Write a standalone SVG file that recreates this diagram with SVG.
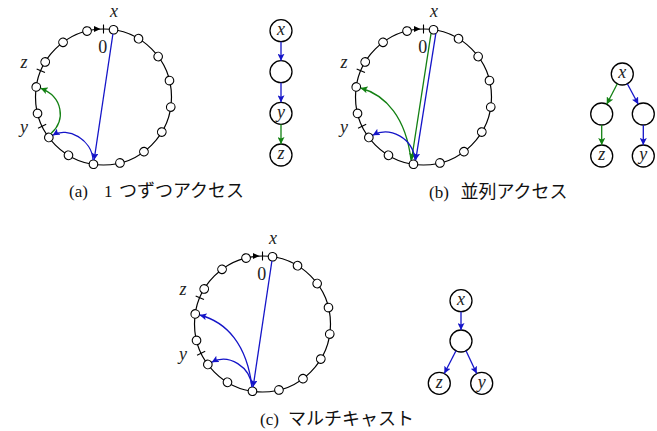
<svg xmlns="http://www.w3.org/2000/svg" width="657" height="431" viewBox="0 0 657 431">
<style>
.ring{fill:none;stroke:#000;stroke-width:1.2}
.rn{fill:#fff;stroke:#000;stroke-width:1.1}
.tk{stroke:#000;stroke-width:1.1}
.tn{fill:#fff;stroke:#000;stroke-width:1.3}
.lb{font-family:"Liberation Serif","DejaVu Serif",serif;font-style:italic;font-size:18px;fill:#222}
.num{font-family:"Liberation Serif","DejaVu Serif",serif;font-size:18px;fill:#222}
.ser{font-family:"Liberation Serif","DejaVu Serif",serif;font-size:17px;fill:#111}
.jp{font-family:"Noto Sans CJK JP","Noto Sans",sans-serif;font-size:18px;fill:#111}
.b{fill:none;stroke:#1414c8;stroke-width:1.3;marker-end:url(#ab)}
.g{fill:none;stroke:#128012;stroke-width:1.3;marker-end:url(#ag)}
</style>
<defs>
<marker id="ab" markerUnits="userSpaceOnUse" markerWidth="8" markerHeight="7" refX="7" refY="3.5" orient="auto"><path d="M0,0 L7,3.5 L0,7 L1.5,3.5 Z" fill="#1414c8"/></marker>
<marker id="ag" markerUnits="userSpaceOnUse" markerWidth="8" markerHeight="7" refX="7" refY="3.5" orient="auto"><path d="M0,0 L7,3.5 L0,7 L1.5,3.5 Z" fill="#128012"/></marker>
</defs>

<!-- (a) ring -->
<g id="ringA" transform="translate(103.5,97)">
<circle class="ring" r="68"/>
<path d="M-3,-68 L-9.5,-71 L-9.5,-65 Z" fill="#000"/>
<line class="tk" x1="0" y1="-72.5" x2="0" y2="-63.5"/>
<line class="tk" x1="0" y1="-72.5" x2="0" y2="-63.5" transform="rotate(244.5)"/>
<line class="tk" x1="0" y1="-72.5" x2="0" y2="-63.5" transform="rotate(292.8)"/>
<g id="ringA-nodes">
<circle class="rn" cy="-68" r="4.3" transform="rotate(8.5)"/>
<circle class="rn" cy="-68" r="4.3" transform="rotate(31)"/>
<circle class="rn" cy="-68" r="4.3" transform="rotate(53.5)"/>
<circle class="rn" cy="-68" r="4.3" transform="rotate(76)"/>
<circle class="rn" cy="-68" r="4.3" transform="rotate(98.5)"/>
<circle class="rn" cy="-68" r="4.3" transform="rotate(121)"/>
<circle class="rn" cy="-68" r="4.3" transform="rotate(143.5)"/>
<circle class="rn" cy="-68" r="4.3" transform="rotate(166)"/>
<circle class="rn" cy="-68" r="4.3" transform="rotate(188.5)"/>
<circle class="rn" cy="-68" r="4.3" transform="rotate(211)"/>
<circle class="rn" cy="-68" r="4.3" transform="rotate(233.5)"/>
<circle class="rn" cy="-68" r="4.3" transform="rotate(256)"/>
<circle class="rn" cy="-68" r="4.3" transform="rotate(278.5)"/>
<circle class="rn" cy="-68" r="4.3" transform="rotate(301)"/>
<circle class="rn" cy="-68" r="4.3" transform="rotate(323.5)"/>
<circle class="rn" cy="-68" r="4.3" transform="rotate(346)"/>
</g>
<text class="lb" x="10.5" y="-80.3" text-anchor="middle">x</text>
<text class="num" x="-0.8" y="-43.7" text-anchor="middle">0</text>
<text class="lb" x="-79.5" y="-28.7" text-anchor="middle">z</text>
<text class="lb" x="-79.5" y="35.5" text-anchor="middle">y</text>
<g id="ringA-edges">
<path class="b" d="M9.4,-63 L-9.4,63"/>
<path class="b" d="M-10.5,63 C-11.5,43 -35.5,29 -50.8,38.2"/>
<path class="g" d="M-52.5,36.5 C-37.5,23 -40.5,0 -62.9,-8.8"/>
</g>
</g>

<!-- (b) ring -->
<g id="ringB" transform="translate(423.5,97)">
<circle class="ring" r="68"/>
<path d="M-3,-68 L-9.5,-71 L-9.5,-65 Z" fill="#000"/>
<line class="tk" x1="0" y1="-72.5" x2="0" y2="-63.5"/>
<line class="tk" x1="0" y1="-72.5" x2="0" y2="-63.5" transform="rotate(244.5)"/>
<line class="tk" x1="0" y1="-72.5" x2="0" y2="-63.5" transform="rotate(292.8)"/>
<g id="ringB-nodes">
<circle class="rn" cy="-68" r="4.3" transform="rotate(8.5)"/>
<circle class="rn" cy="-68" r="4.3" transform="rotate(31)"/>
<circle class="rn" cy="-68" r="4.3" transform="rotate(53.5)"/>
<circle class="rn" cy="-68" r="4.3" transform="rotate(76)"/>
<circle class="rn" cy="-68" r="4.3" transform="rotate(98.5)"/>
<circle class="rn" cy="-68" r="4.3" transform="rotate(121)"/>
<circle class="rn" cy="-68" r="4.3" transform="rotate(143.5)"/>
<circle class="rn" cy="-68" r="4.3" transform="rotate(166)"/>
<circle class="rn" cy="-68" r="4.3" transform="rotate(188.5)"/>
<circle class="rn" cy="-68" r="4.3" transform="rotate(211)"/>
<circle class="rn" cy="-68" r="4.3" transform="rotate(233.5)"/>
<circle class="rn" cy="-68" r="4.3" transform="rotate(256)"/>
<circle class="rn" cy="-68" r="4.3" transform="rotate(278.5)"/>
<circle class="rn" cy="-68" r="4.3" transform="rotate(301)"/>
<circle class="rn" cy="-68" r="4.3" transform="rotate(323.5)"/>
<circle class="rn" cy="-68" r="4.3" transform="rotate(346)"/>
</g>
<text class="lb" x="10.5" y="-80.3" text-anchor="middle">x</text>
<text class="num" x="-0.8" y="-43.7" text-anchor="middle">0</text>
<text class="lb" x="-79.5" y="-28.7" text-anchor="middle">z</text>
<text class="lb" x="-79.5" y="35.5" text-anchor="middle">y</text>
<g id="ringB-edges">
<path class="g" d="M7.5,-63.3 L-12,63"/>
<path class="b" d="M12.3,-63.3 L-7.8,63.1"/>
<path class="g" d="M-12.5,63 C-17.5,21 -37.5,-2 -62.9,-9"/>
<path class="b" d="M-8.5,63 C-10.5,41 -33.5,29 -50.8,38.2"/>
</g>
</g>

<!-- (c) ring -->
<g id="ringC" transform="translate(262.5,324)">
<circle class="ring" r="68"/>
<path d="M-3,-68 L-9.5,-71 L-9.5,-65 Z" fill="#000"/>
<line class="tk" x1="0" y1="-72.5" x2="0" y2="-63.5"/>
<line class="tk" x1="0" y1="-72.5" x2="0" y2="-63.5" transform="rotate(244.5)"/>
<line class="tk" x1="0" y1="-72.5" x2="0" y2="-63.5" transform="rotate(292.8)"/>
<g id="ringC-nodes">
<circle class="rn" cy="-68" r="4.3" transform="rotate(8.5)"/>
<circle class="rn" cy="-68" r="4.3" transform="rotate(31)"/>
<circle class="rn" cy="-68" r="4.3" transform="rotate(53.5)"/>
<circle class="rn" cy="-68" r="4.3" transform="rotate(76)"/>
<circle class="rn" cy="-68" r="4.3" transform="rotate(98.5)"/>
<circle class="rn" cy="-68" r="4.3" transform="rotate(121)"/>
<circle class="rn" cy="-68" r="4.3" transform="rotate(143.5)"/>
<circle class="rn" cy="-68" r="4.3" transform="rotate(166)"/>
<circle class="rn" cy="-68" r="4.3" transform="rotate(188.5)"/>
<circle class="rn" cy="-68" r="4.3" transform="rotate(211)"/>
<circle class="rn" cy="-68" r="4.3" transform="rotate(233.5)"/>
<circle class="rn" cy="-68" r="4.3" transform="rotate(256)"/>
<circle class="rn" cy="-68" r="4.3" transform="rotate(278.5)"/>
<circle class="rn" cy="-68" r="4.3" transform="rotate(301)"/>
<circle class="rn" cy="-68" r="4.3" transform="rotate(323.5)"/>
<circle class="rn" cy="-68" r="4.3" transform="rotate(346)"/>
</g>
<text class="lb" x="10.5" y="-80.3" text-anchor="middle">x</text>
<text class="num" x="-0.8" y="-43.7" text-anchor="middle">0</text>
<text class="lb" x="-79.5" y="-28.7" text-anchor="middle">z</text>
<text class="lb" x="-79.5" y="35.5" text-anchor="middle">y</text>
<g id="ringC-edges">
<path class="b" d="M9.4,-63 L-9.4,63"/>
<path class="b" d="M-10.5,63 C-15.5,21 -35.5,-2 -62.9,-9"/>
<path class="b" d="M-10.5,63 C-12,43 -33.5,29 -50.8,38.2"/>
</g>
</g>

<!-- tree (a) -->
<g id="ta-x"><circle class="tn" cx="281" cy="30.7" r="11"/><text class="lb" x="281" y="35" text-anchor="middle">x</text></g>
<g id="ta-m"><circle class="tn" cx="281" cy="71.7" r="11"/></g>
<g id="ta-y"><circle class="tn" cx="281" cy="113.3" r="11"/><text class="lb" x="281" y="117.6" text-anchor="middle">y</text></g>
<g id="ta-z"><circle class="tn" cx="281" cy="155" r="11"/><text class="lb" x="281" y="159.3" text-anchor="middle">z</text></g>

<!-- tree (b) -->
<g id="tb-x"><circle class="tn" cx="622.3" cy="74" r="11"/><text class="lb" x="622.3" y="78.3" text-anchor="middle">x</text></g>
<g id="tb-l"><circle class="tn" cx="601.7" cy="114" r="11"/></g>
<g id="tb-r"><circle class="tn" cx="643.3" cy="114" r="11"/></g>
<g id="tb-z"><circle class="tn" cx="601.7" cy="156" r="11"/><text class="lb" x="601.7" y="160.3" text-anchor="middle">z</text></g>
<g id="tb-y"><circle class="tn" cx="643.3" cy="156" r="11"/><text class="lb" x="643.3" y="160.3" text-anchor="middle">y</text></g>

<!-- tree (c) -->
<g id="tc-x"><circle class="tn" cx="461" cy="300.7" r="11"/><text class="lb" x="461" y="305" text-anchor="middle">x</text></g>
<g id="tc-m"><circle class="tn" cx="461" cy="341" r="11"/></g>
<g id="tc-z"><circle class="tn" cx="439.3" cy="383.3" r="11"/><text class="lb" x="439.3" y="387.6" text-anchor="middle">z</text></g>
<g id="tc-y"><circle class="tn" cx="481.7" cy="383.3" r="11"/><text class="lb" x="481.7" y="387.6" text-anchor="middle">y</text></g>

<g id="tree-edges">
<path class="b" d="M281,41.7 L281,60.7"/>
<path class="b" d="M281,82.7 L281,102.3"/>
<path class="g" d="M281,124.3 L281,144"/>
<path class="g" d="M617.3,83.8 L606.7,104.2"/>
<path class="g" d="M601.7,125 L601.7,145"/>
<path class="b" d="M627.3,83.8 L638.3,104.2"/>
<path class="b" d="M643.3,125 L643.3,145"/>
<path class="b" d="M461,311.7 L461,330"/>
<path class="b" d="M456,350.8 L444.3,373.5"/>
<path class="b" d="M466,350.8 L476.7,373.5"/>
</g>

<!-- captions -->
<text y="197"><tspan class="ser" x="69">(a)</tspan><tspan class="ser" x="104">1</tspan><tspan class="jp" x="119">つずつアクセス</tspan></text>
<text y="197.5"><tspan class="ser" x="429">(b)</tspan><tspan class="jp" x="460.5">並列アクセス</tspan></text>
<text y="424.5"><tspan class="ser" x="260">(c)</tspan><tspan class="jp" x="288">マルチキャスト</tspan></text>
</svg>
